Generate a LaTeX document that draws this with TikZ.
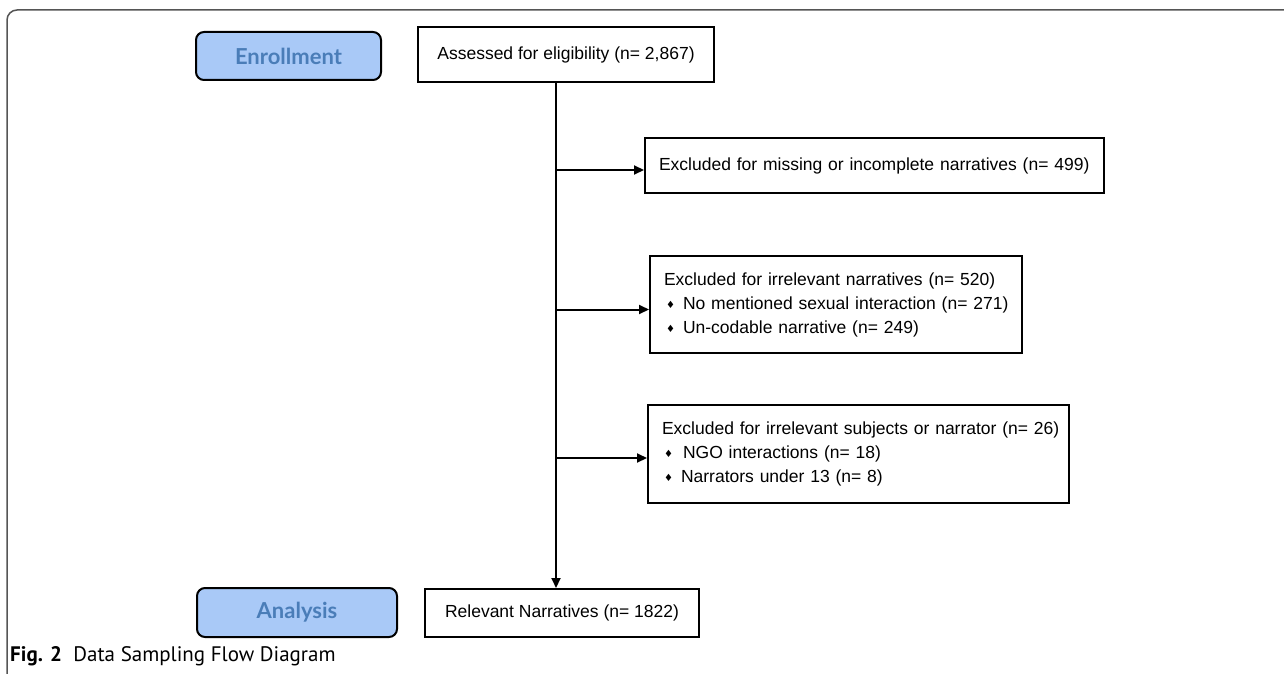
\documentclass[tikz,border=0pt]{standalone}
\usepackage{fontspec}
\setmainfont{Liberation Sans}
\newfontfamily\labelfont{Lato}
\newfontfamily\capfont{PT Sans}
\newfontfamily\symfont{DejaVu Sans}
\usetikzlibrary{arrows.meta,calc}
\definecolor{phasefill}{HTML}{A9C9F7}
\definecolor{phasetext}{HTML}{4A7DB8}
\definecolor{framegray}{HTML}{555555}
\newcommand{\bul}[1]{\makebox[#1][l]{\hspace{2pt}\raisebox{1pt}{\symfont\fontsize{10}{10}\selectfont ♦}}}
\begin{document}
\begin{tikzpicture}[x=1pt,y=-1pt,
 flowbox/.style={draw=black, line width=2pt, fill=white, inner sep=0pt, anchor=north west, font=\fontsize{17.5}{24}\selectfont},
 exbox/.style={flowbox, inner xsep=14pt, align=left},
 phase/.style={draw=black, line width=2pt, fill=phasefill, rounded corners=8pt, anchor=north west, font=\labelfont\bfseries\fontsize{22}{24}\selectfont, text=phasetext, inner sep=0pt},
 flow/.style={line width=2pt, -{Triangle[length=10pt,width=9pt]}},
]
\useasboundingbox (0,0) rectangle (1284,674);
\draw[framegray, line width=1.5pt, rounded corners=10pt] (7,674) -- (7,10) -- (1284,10);

\node[phase, minimum width=185pt, minimum height=48pt] (enrol) at (195,31) {Enrollment};
\node[phase, minimum width=200pt, minimum height=49pt] (anal) at (196,587) {Analysis};

\node[flowbox, minimum width=296pt, minimum height=55pt] (assess) at (417,26) {Assessed for eligibility (n= 2,867)};
\node[exbox, text width=431pt, minimum height=55pt] (ex1) at (644,137) {\mbox{Excluded for missing or incomplete narratives (n= 499)}};
\node[exbox, text width=344pt, minimum height=97pt] (ex2) at (649,255) {\mbox{Excluded for irrelevant narratives (n= 520)}\\
\mbox{\bul{19pt}No mentioned sexual interaction (n= 271)}\\
\mbox{\bul{19pt}Un-codable narrative (n= 249)}};
\node[exbox, text width=393pt, minimum height=98pt] (ex3) at (647,404) {\mbox{Excluded for irrelevant subjects or narrator (n= 26)}\\
\mbox{\bul{21pt}NGO interactions (n= 18)}\\
\mbox{\bul{19pt}Narrators under 13 (n= 8)}};
\node[flowbox, minimum width=274pt, minimum height=48pt] (rel) at (424,588) {Relevant Narratives (n= 1822)};

\node[anchor=west, inner sep=0pt, font=\capfont\fontsize{21}{22}\selectfont] (cap) at (10,656) {\textbf{Fig. 2}\hspace{0.55em}Data Sampling Flow Diagram};

\coordinate (tx) at (556,0);
\draw[flow] (assess.south -| tx) -- (rel.north -| tx);
\draw[flow] ($(ex1.west -| tx)+(0,4.5)$) -- ($(ex1.west)+(0,4.5)$);
\draw[flow] ($(ex2.west -| tx)+(0,5)$) -- ($(ex2.west)+(0,5)$);
\draw[flow] ($(ex3.west -| tx)+(0,4)$) -- ($(ex3.west)+(0,4)$);
\end{tikzpicture}
\end{document}
